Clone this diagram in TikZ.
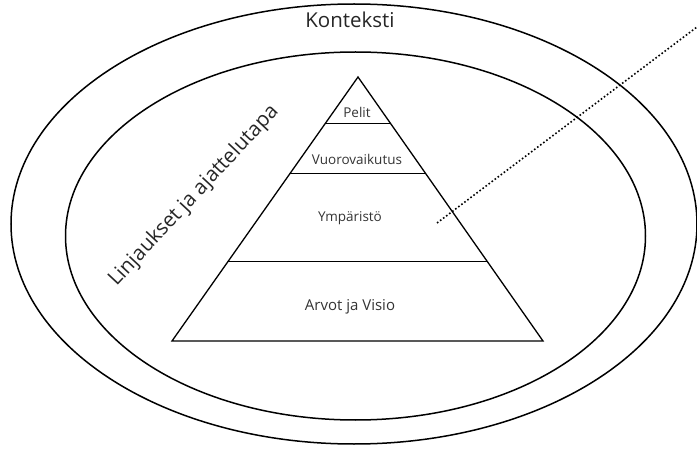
\documentclass[tikz,border=0pt]{standalone}
\usepackage{fontspec}
\setmainfont{Open Sans}
\usetikzlibrary{calc}
\tikzset{
  layer/.style={font=\fontsize{13.5}{16}\selectfont, text=black!80},
  ring/.style={line width=1.5pt},
  pointer/.style={line width=1.6pt, dash pattern=on 1.6pt off 2.2pt}
}
\begin{document}
\begin{tikzpicture}[x=1pt,y=1pt]
\useasboundingbox (0,0) rectangle (697,448);
\draw [ring] (354,224) ellipse [x radius=343, y radius=220];
\draw [ring] (355.5,212) ellipse [x radius=290, y radius=184];
\coordinate (apex) at (358,371);
\coordinate (bl) at (172,107);
\coordinate (br) at (543,107);
\draw [line width=1.3pt, line join=miter] (apex) -- (bl) -- (br) -- cycle;
\draw [line width=1pt] ($(apex)!0.178!(bl)$) -- ($(apex)!0.178!(br)$);
\draw [line width=1pt] ($(apex)!0.364!(bl)$) -- ($(apex)!0.364!(br)$);
\draw [line width=1pt] ($(apex)!0.697!(bl)$) -- ($(apex)!0.697!(br)$);
\node [layer] (pelit) at (357,336) {Pelit};
\node [layer] (vuoro) at (357,289) {Vuorovaikutus};
\node [layer] (ymp) at (350,230) {Ympäristö};
\node [layer, font=\fontsize{15}{18}\selectfont] (arvot) at (350,141) {Arvot ja Visio};
\node [font=\fontsize{20.5}{24}\selectfont, text=black!85] (konteksti) at (350,428) {Konteksti};
\node [font=\fontsize{20.5}{24}\selectfont, text=black!85, rotate=47] (linjaukset) at (194,252) {Linjaukset ja ajattelutapa};
\coordinate (pointstart) at (437,225);
\coordinate (pointend) at (697,421);
\draw [pointer] (pointstart) -- (pointend);
\end{tikzpicture}
\end{document}
